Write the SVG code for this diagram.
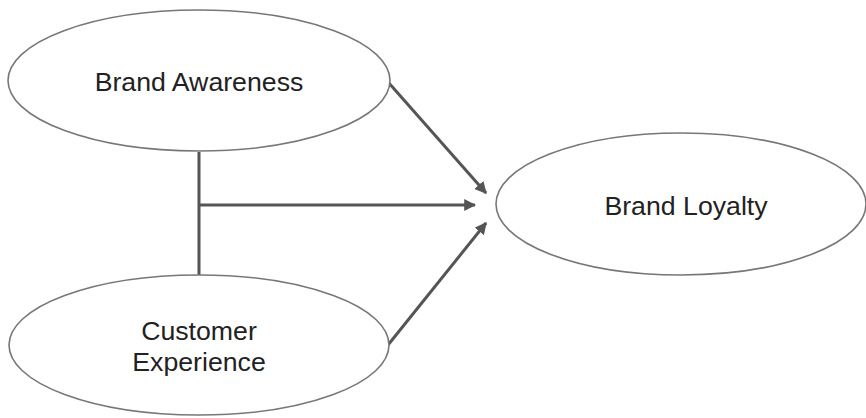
<svg xmlns="http://www.w3.org/2000/svg" width="866" height="418" viewBox="0 0 866 418">
<style>
.node ellipse{fill:#fff;stroke:#777;stroke-width:1.6}
.node text{font-family:"Liberation Sans",Arial,sans-serif;font-size:26.7px;fill:#222;text-anchor:middle}
.conn{stroke:#555;stroke-width:3;fill:none}
</style>
<defs>
<marker id="ah" viewBox="0 0 10 10" refX="9" refY="5" markerWidth="4" markerHeight="4" orient="auto" markerUnits="strokeWidth">
<path d="M0,0 L10,5 L0,10 z" fill="#555"/>
</marker>
</defs>
<rect width="866" height="418" fill="#fff"/>
<g id="connectors">
<line class="conn" x1="199" y1="152" x2="199" y2="275"/>
<line class="conn" x1="199" y1="205" x2="475" y2="205" marker-end="url(#ah)"/>
<line class="conn" x1="388" y1="82" x2="486" y2="193" marker-end="url(#ah)"/>
<line class="conn" x1="388" y1="345" x2="486" y2="223" marker-end="url(#ah)"/>
</g>
<g id="brand-awareness" class="node">
<ellipse cx="199" cy="80.5" rx="191" ry="70.5"/>
<text x="199" y="91">Brand Awareness</text>
</g>
<g id="customer-experience" class="node">
<ellipse cx="199" cy="345" rx="190" ry="70"/>
<text x="199" y="340">Customer</text>
<text x="199" y="371">Experience</text>
</g>
<g id="brand-loyalty" class="node">
<ellipse cx="681" cy="204" rx="185" ry="71"/>
<text x="686" y="215">Brand Loyalty</text>
</g>
</svg>
